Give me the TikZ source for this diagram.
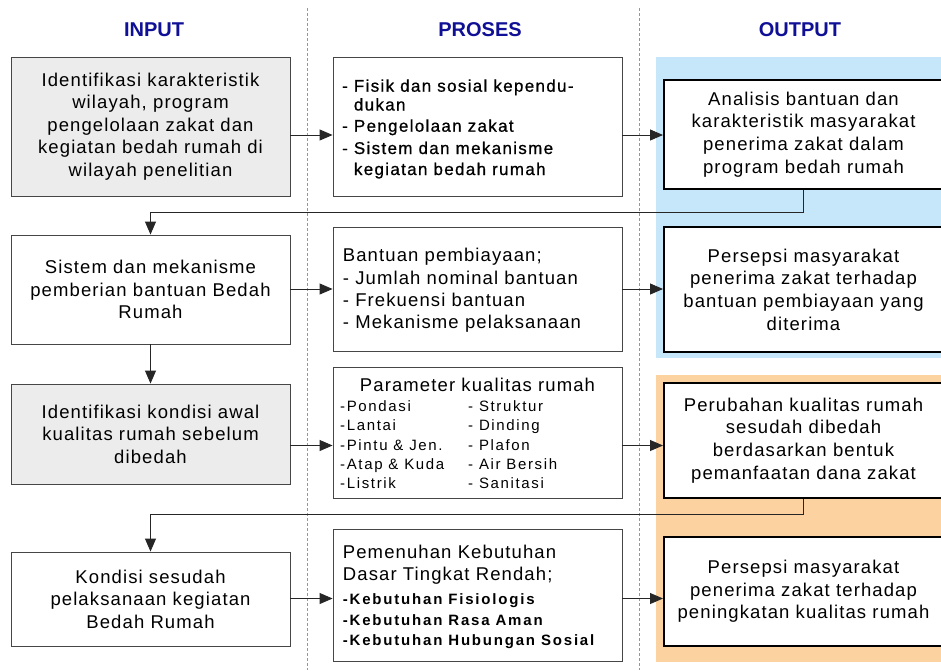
\documentclass[tikz,border=0pt]{standalone}
\usepackage{fontspec}
\setmainfont{Liberation Sans}
\newfontfamily\mainf[LetterSpace=6]{Liberation Sans}
\newfontfamily\pf[LetterSpace=7.8,FakeBold=0.7]{Liberation Sans}
\newfontfamily\listf[LetterSpace=11]{Liberation Sans}
\newfontfamily\bulf[LetterSpace=12]{Liberation Sans}
\usetikzlibrary{arrows.meta}
\definecolor{navy}{RGB}{16,16,150}
\definecolor{boxgray}{RGB}{70,70,70}
\definecolor{infill}{RGB}{236,236,236}
\definecolor{bluebg}{RGB}{198,230,250}
\definecolor{orangebg}{RGB}{252,210,160}
\definecolor{dashgray}{RGB}{150,150,150}
\begin{document}
\begin{tikzpicture}[x=1pt,y=-1pt,
  hdr/.style={font=\bfseries\fontsize{20}{24}\selectfont, text=navy, anchor=base, inner sep=0pt},
  inbox/.style={draw=boxgray, line width=0.9pt, minimum width=279pt, inner sep=0pt, align=center,
    font={\mainf\fontsize{18.5}{22.5}\selectfont}},
  grayfill/.style={fill=infill},
  pbox/.style={draw=boxgray, line width=0.9pt, fill=white, minimum width=289pt, inner sep=0pt},
  outbox/.style={draw=black, line width=2pt, fill=white, minimum width=279pt, inner sep=0pt, align=center,
    font={\mainf\fontsize{18.5}{22.6}\selectfont}},
  ptext/.style={anchor=base west, inner sep=0pt},
  ponebf/.style={ptext, font={\pf\fontsize{17}{18}\selectfont}},
  pmain/.style={ptext, font={\mainf\fontsize{18.5}{22}\selectfont}},
  plist/.style={ptext, font={\listf\fontsize{15}{18}\selectfont}},
  pfourbf/.style={ptext, font={\bulf\bfseries\fontsize{15}{18}\selectfont}},
  guide/.style={draw=dashgray, line width=0.7pt, dash pattern=on 3pt off 2pt},
  conn/.style={draw=black!85, line width=0.9pt},
  arr/.style={conn, -{Triangle[length=13pt,width=11pt]}}
]
\useasboundingbox (0,0) rectangle (941,670);
\fill[white] (0,0) rectangle (941,670);

% backgrounds of output column
\fill[bluebg] (656,57) rectangle (945,358);
\fill[orangebg] (656,375) rectangle (945,662);

% dashed column guides
\draw[guide] (307,8) -- (307,670);
\draw[guide] (639,8) -- (639,670);

% headers
\node[hdr] (hin) at (154,36) {INPUT};
\node[hdr] (hpr) at (480,36) {PROSES};
\node[hdr] (hout) at (800,36) {OUTPUT};

% input column
\node[inbox, grayfill, minimum height=139pt] (I1) at (150.5,126.5)
  {Identifikasi karakteristik\\wilayah, program\\pengelolaan zakat dan\\kegiatan bedah rumah di\\wilayah penelitian};
\node[inbox, fill=white, minimum height=109pt] (I2) at (150.5,289.5)
  {Sistem dan mekanisme\\pemberian bantuan Bedah\\Rumah};
\node[inbox, grayfill, minimum height=100pt] (I3) at (150.5,434)
  {Identifikasi kondisi awal\\kualitas rumah sebelum\\dibedah};
\node[inbox, fill=white, minimum height=94pt] (I4) at (150.5,599)
  {Kondisi sesudah\\pelaksanaan kegiatan\\Bedah Rumah};

% process column
\node[pbox, minimum height=139pt] (P1) at (477.5,126.5) {};
\node[pbox, minimum height=124pt] (P2) at (477.5,289) {};
\node[pbox, minimum height=131pt] (P3) at (477.5,432.5) {};
\node[pbox, minimum height=132pt] (P4) at (477.5,595) {};

\node[ponebf] (p1a) at (342,91.7) {- Fisik dan sosial kependu-};
\node[ponebf] (p1b) at (342,110.5) {\hphantom{- }dukan};
\node[ponebf] (p1c) at (342,131.7) {- Pengelolaan zakat};
\node[ponebf] (p1d) at (342,154) {- Sistem dan mekanisme};
\node[ponebf] (p1e) at (342,175) {\hphantom{- }kegiatan bedah rumah};

\node[pmain] (p2a) at (342.7,261.7) {Bantuan pembiayaan;};
\node[pmain] (p2b) at (342.7,284) {- Jumlah nominal bantuan};
\node[pmain] (p2c) at (342.7,306.7) {- Frekuensi bantuan};
\node[pmain] (p2d) at (342.7,328.5) {- Mekanisme pelaksanaan};

\node[anchor=base, inner sep=0pt, font={\mainf\fontsize{18.5}{22}\selectfont}] (p3t) at (477.5,391.7) {Parameter kualitas rumah};
\node[plist] (p3a) at (340,411.7) {-Pondasi};
\node[plist] (p3b) at (340,430.7) {-Lantai};
\node[plist] (p3c) at (340,450) {-Pintu \& Jen.};
\node[plist] (p3d) at (340,469) {-Atap \& Kuda};
\node[plist] (p3e) at (340,488) {-Listrik};
\node[plist] (p3f) at (468,411.7) {- Struktur};
\node[plist] (p3g) at (468,430.7) {- Dinding};
\node[plist] (p3h) at (468,450) {- Plafon};
\node[plist] (p3i) at (468,469) {- Air Bersih};
\node[plist] (p3j) at (468,488) {- Sanitasi};

\node[pmain] (p4a) at (342.7,558) {Pemenuhan Kebutuhan};
\node[pmain] (p4b) at (342.7,580) {Dasar Tingkat Rendah;};
\node[pfourbf] (p4c) at (342.7,604) {-Kebutuhan Fisiologis};
\node[pfourbf] (p4d) at (342.7,625) {-Kebutuhan Rasa Aman};
\node[pfourbf] (p4e) at (342.7,645.5) {-Kebutuhan Hubungan Sosial};

% output column
\node[outbox, minimum height=109pt] (O1) at (803.5,134.5)
  {Analisis bantuan dan\\karakteristik masyarakat\\penerima zakat dalam\\program bedah rumah};
\node[outbox, minimum height=125pt] (O2) at (803.5,289.5)
  {Persepsi masyarakat\\penerima zakat terhadap\\bantuan pembiayaan yang\\diterima};
\node[outbox, minimum height=115pt] (O3) at (803.5,440.5)
  {Perubahan kualitas rumah\\sesudah dibedah\\berdasarkan bentuk\\pemanfaatan dana zakat};
\node[outbox, minimum height=109pt] (O4) at (803.5,591.5)
  {Persepsi masyarakat\\penerima zakat terhadap\\peningkatan kualitas rumah};

% row levels
\coordinate (r1) at (0,135);
\coordinate (r2) at (0,289);
\coordinate (r3) at (0,445.5);
\coordinate (r4) at (0,598.5);
\coordinate (fb1) at (0,212);
\coordinate (fb2) at (0,514);

% connectors
\draw[arr] (I1.east |- r1) -- (P1.west |- r1);
\draw[arr] (P1.east |- r1) -- (O1.west |- r1);
\draw[arr] (I2.east |- r2) -- (P2.west |- r2);
\draw[arr] (P2.east |- r2) -- (O2.west |- r2);
\draw[arr] (I3.east |- r3) -- (P3.west |- r3);
\draw[arr] (P3.east |- r3) -- (O3.west |- r3);
\draw[arr] (I4.east |- r4) -- (P4.west |- r4);
\draw[arr] (P4.east |- r4) -- (O4.west |- r4);

\draw[arr] (O1.south) -- (O1.south |- fb1) -| (I2.north);
\draw[arr] (I2.south) -- (I3.north);
\draw[arr] (O3.south) -- (O3.south |- fb2) -| (I4.north);
\end{tikzpicture}
\end{document}
